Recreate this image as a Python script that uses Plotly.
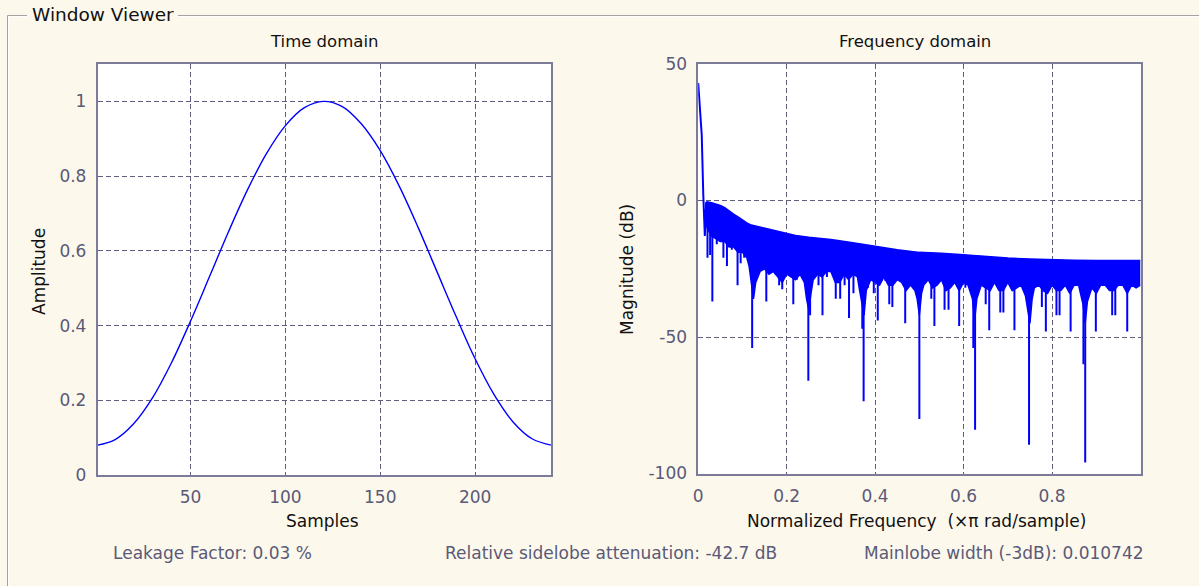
import plotly.graph_objects as go

# ---------------- data ----------------
# Time domain (window samples)
samples = [1, 10, 20, 30, 40, 50, 60, 70, 80, 90, 100, 110, 120,
           130, 140, 150, 160, 170, 180, 190, 200, 210, 220, 230, 240]
amplitude = [0.080, 0.094, 0.137, 0.207, 0.301, 0.412, 0.531, 0.651, 0.763, 0.860, 0.935, 0.983, 1.000,
             0.986, 0.940, 0.868, 0.773, 0.662, 0.543, 0.424, 0.311, 0.215, 0.142, 0.097, 0.080]

# Frequency domain: main lobe
lobe_f = [0.0, 0.004, 0.008, 0.0115, 0.015, 0.018]
lobe_db = [43, 35, 24, 2, -13, -1]

# Upper envelope of the sidelobe band
top_f = [0.016, 0.02, 0.03, 0.04, 0.05, 0.06, 0.07, 0.08, 0.09, 0.10, 0.11, 0.12, 0.14, 0.16,
         0.18, 0.20, 0.22, 0.25, 0.30, 0.35, 0.40, 0.45, 0.50, 0.55, 0.60, 0.65, 0.70, 0.75,
         0.80, 0.85, 0.90, 0.95, 1.0]
top_db = [-1.0, -0.5, -0.8, -1.2, -1.8, -2.6, -3.9, -5.0, -6.0, -7.2, -8.2, -9.0, -9.8, -10.6,
          -11.4, -12.2, -12.8, -13.5, -14.3, -15.5, -16.8, -18.0, -19.0, -19.3, -19.9, -20.6, -21.1, -21.4,
          -21.7, -21.9, -22.0, -22.0, -22.0]

# Lower (ragged) edge of the solid part of the band
bot_f = [0.016, 0.02, 0.03, 0.04, 0.05, 0.06, 0.07, 0.08, 0.09, 0.10, 0.11, 0.115, 0.12, 0.125,
         0.13, 0.14, 0.15, 0.16, 0.17, 0.18, 0.19, 0.20, 0.21, 0.22, 0.23, 0.24, 0.245, 0.25,
         0.255, 0.26, 0.27, 0.28, 0.29, 0.30, 0.31, 0.32, 0.33, 0.34, 0.35, 0.36, 0.365, 0.37,
         0.375, 0.38, 0.39, 0.40, 0.41, 0.42, 0.43, 0.44, 0.45, 0.46, 0.47, 0.48, 0.49, 0.495,
         0.50, 0.505, 0.51, 0.52, 0.53, 0.54, 0.55, 0.56, 0.57, 0.58, 0.59, 0.60, 0.61, 0.62,
         0.625, 0.63, 0.64, 0.65, 0.66, 0.67, 0.68, 0.69, 0.70, 0.71, 0.72, 0.73, 0.74, 0.75,
         0.755, 0.76, 0.77, 0.78, 0.79, 0.80, 0.81, 0.82, 0.83, 0.84, 0.85, 0.86, 0.87, 0.875,
         0.88, 0.89, 0.90, 0.91, 0.92, 0.93, 0.94, 0.95, 0.96, 0.97, 0.98, 0.99, 1.0]
bot_db = [-6, -10, -13, -14, -15, -15, -17, -17, -19, -19, -21, -24, -30, -36,
          -30, -26, -25, -27, -26, -28, -30, -27, -28, -29, -27, -30, -36, -40,
          -34, -29, -27, -28, -26, -26, -30, -30, -27, -29, -27, -28, -33, -38,
          -42, -33, -29, -30, -31, -28, -31, -31, -29, -30, -33, -31, -33, -36,
          -42, -34, -31, -29, -32, -31, -29, -33, -32, -30, -33, -30, -31, -36,
          -44, -36, -31, -32, -33, -30, -33, -33, -30, -33, -32, -31, -35, -45,
          -36, -32, -31, -33, -34, -31, -33, -33, -31, -34, -31, -31, -38, -45,
          -37, -32, -34, -31, -31, -33, -33, -31, -31, -34, -31, -32, -31]

# Deep nulls (spikes) below the band
spike_f = [0.021, 0.027, 0.032, 0.042, 0.049, 0.057, 0.065, 0.076, 0.089, 0.096, 0.104, 0.113,
           0.122, 0.132, 0.154, 0.165, 0.174, 0.183, 0.190, 0.204, 0.215, 0.223, 0.249, 0.253,
           0.272, 0.281, 0.291, 0.311, 0.321, 0.331, 0.341, 0.351, 0.362, 0.371, 0.374, 0.384,
           0.397, 0.406, 0.423, 0.432, 0.439, 0.468, 0.494, 0.500, 0.527, 0.534, 0.557, 0.566,
           0.590, 0.604, 0.622, 0.626, 0.650, 0.658, 0.683, 0.690, 0.715, 0.739, 0.748, 0.777,
           0.786, 0.810, 0.817, 0.842, 0.871, 0.875, 0.899, 0.936, 0.943, 0.970]
spike_top = [-8, -10, -11, -12, -12, -13, -14, -14, -15, -16, -17, -18,
             -19, -19, -20, -21, -21, -22, -22, -22, -23, -23, -23, -23,
             -23, -23, -23, -23, -23, -24, -24, -24, -25, -25, -25, -25,
             -26, -26, -26, -27, -27, -27, -28, -28, -28, -28, -28, -28,
             -28, -28, -29, -29, -29, -29, -29, -29, -29, -29, -29, -29,
             -29, -29, -29, -29, -29, -29, -29, -29, -29, -29]
spike_low = [-21, -20, -37, -16, -15, -21, -24, -18, -31, -23, -21, -21,
             -54, -27, -37, -26, -27, -31, -32.5, -27, -38, -29, -66, -42,
             -31, -42, -28, -36, -36, -31, -43, -34, -29, -47, -73.5, -32,
             -34, -44, -29.4, -38, -39, -45, -33, -80, -36, -46, -40, -40,
             -46, -32, -54, -84, -38, -47.5, -41, -41, -47.5, -34, -89.5, -39,
             -48, -42, -42, -48, -60, -96, -48, -42, -42, -48]

time_ticks = [50, 100, 150, 200]
amp_ticks = [0, 0.2, 0.4, 0.6, 0.8, 1]
amp_labels = ["0", "0.2", "0.4", "0.6", "0.8", "1"]
freq_ticks = [0, 0.2, 0.4, 0.6, 0.8]
freq_labels = ["0", "0.2", "0.4", "0.6", "0.8"]
mag_ticks = [-100, -50, 0, 50]
mag_labels = ["-100", "-50", "0", "50"]

# ---------------- figure ----------------
W, H = 1199, 586
BG = "#FDF8EC"
BLUE = "#0000FF"
FONT = "DejaVu Sans"
TICKC = "#5a5a78"
GRIDC = "#5e5e7c"
LINEC = "#7c7c98"


def px(x):
    return x / W


def py(y):
    return 1 - y / H


fig = go.Figure()

fig.add_trace(go.Scatter(x=samples, y=amplitude, mode="lines", line=dict(color=BLUE, width=1.4, shape="spline"),
                         xaxis="x", yaxis="y", hoverinfo="skip"))

# band lower edge, then upper edge filled to it
fig.add_trace(go.Scatter(x=bot_f, y=bot_db, mode="lines", line=dict(color=BLUE, width=1.5),
                         xaxis="x2", yaxis="y2", hoverinfo="skip"))
fig.add_trace(go.Scatter(x=top_f, y=top_db, mode="lines", line=dict(color=BLUE, width=1.5),
                         fill="tonexty", fillcolor=BLUE, xaxis="x2", yaxis="y2", hoverinfo="skip"))

sx, sy = [], []
for f, t, lo in zip(spike_f, spike_top, spike_low):
    sx += [f, f, None]
    sy += [t, lo, None]
fig.add_trace(go.Scatter(x=sx, y=sy, mode="lines", line=dict(color=BLUE, width=2),
                         xaxis="x2", yaxis="y2", hoverinfo="skip"))

fig.add_trace(go.Scatter(x=lobe_f, y=lobe_db, mode="lines", line=dict(color=BLUE, width=2),
                         xaxis="x2", yaxis="y2", hoverinfo="skip"))

axis_common = dict(showgrid=True, gridcolor=GRIDC, griddash="5px,3px", gridwidth=1,
                   showline=True, linecolor=LINEC, linewidth=1.5, mirror=True, automargin=False,
                   ticks="", zeroline=False, tickfont=dict(family=FONT, size=17, color=TICKC),
                   ticklabelstandoff=6)

fig.update_layout(
    template="none",
    width=W, height=H, autosize=False,
    margin=dict(l=0, r=0, t=0, b=0, pad=0, autoexpand=False),
    paper_bgcolor=BG, plot_bgcolor="white",
    showlegend=False,
    xaxis=dict(domain=[px(97.6), px(551)], range=[1, 240], tickvals=time_ticks, anchor="y", **axis_common),
    yaxis=dict(domain=[py(475), py(64)], range=[0, 1.1], tickvals=amp_ticks, ticktext=amp_labels,
               anchor="x", **axis_common),
    xaxis2=dict(domain=[px(698.2), px(1140.5)], range=[0, 1], tickvals=freq_ticks, ticktext=freq_labels,
                anchor="y2", **axis_common),
    yaxis2=dict(domain=[py(473.5), py(64)], range=[-100, 50], tickvals=mag_ticks, ticktext=mag_labels,
                anchor="x2", **axis_common),
)

annots = [
    ("Window Viewer", 30, 14, "left", 18.5, "#111111", 0),
    ("Time domain", 324, 42, "center", 16.5, "#111111", 0),
    ("Frequency domain", 915, 42, "center", 16.5, "#111111", 0),
    ("Samples", 322, 521, "center", 17, "#111111", 0),
    ("Normalized Frequency  (×π rad/sample)", 916, 521, "center", 17, "#111111", 0),
    ("Amplitude", 39, 272, "center", 17, "#111111", -90),
    ("Magnitude (dB)", 627, 270, "center", 17, "#111111", -90),
    ("Leakage Factor: 0.03 %", 111, 553, "left", 17, TICKC, 0),
    ("Relative sidelobe attenuation: -42.7 dB", 443, 553, "left", 17, TICKC, 0),
    ("Mainlobe width (-3dB): 0.010742", 862, 553, "left", 17, TICKC, 0),
]
for text, x, y, anchor, size, color, ang in annots:
    fig.add_annotation(text=text, x=px(x), y=py(y), xref="paper", yref="paper", showarrow=False,
                       xanchor=anchor, yanchor="middle", textangle=ang,
                       font=dict(family=FONT, size=size, color=color))

# etched group box frame
GRAY = "#a3a3a3"
for (x0, y0, x1, y1, c) in [
    (7.5, 15.5, 27, 15.5, GRAY), (178, 15.5, 1199, 15.5, GRAY),
    (8.5, 16.5, 27, 16.5, "white"), (178, 16.5, 1199, 16.5, "white"),
    (7.5, 15.5, 7.5, 586, GRAY), (8.5, 16.5, 8.5, 586, "white"),
]:
    fig.add_shape(type="line", xref="paper", yref="paper", x0=px(x0), y0=py(y0), x1=px(x1), y1=py(y1),
                  line=dict(color=c, width=1))

post = ("document.body.style.margin='0';document.body.style.padding='0';"
        "document.body.style.overflow='hidden';")
fig.write_html("out.html", post_script=post)
